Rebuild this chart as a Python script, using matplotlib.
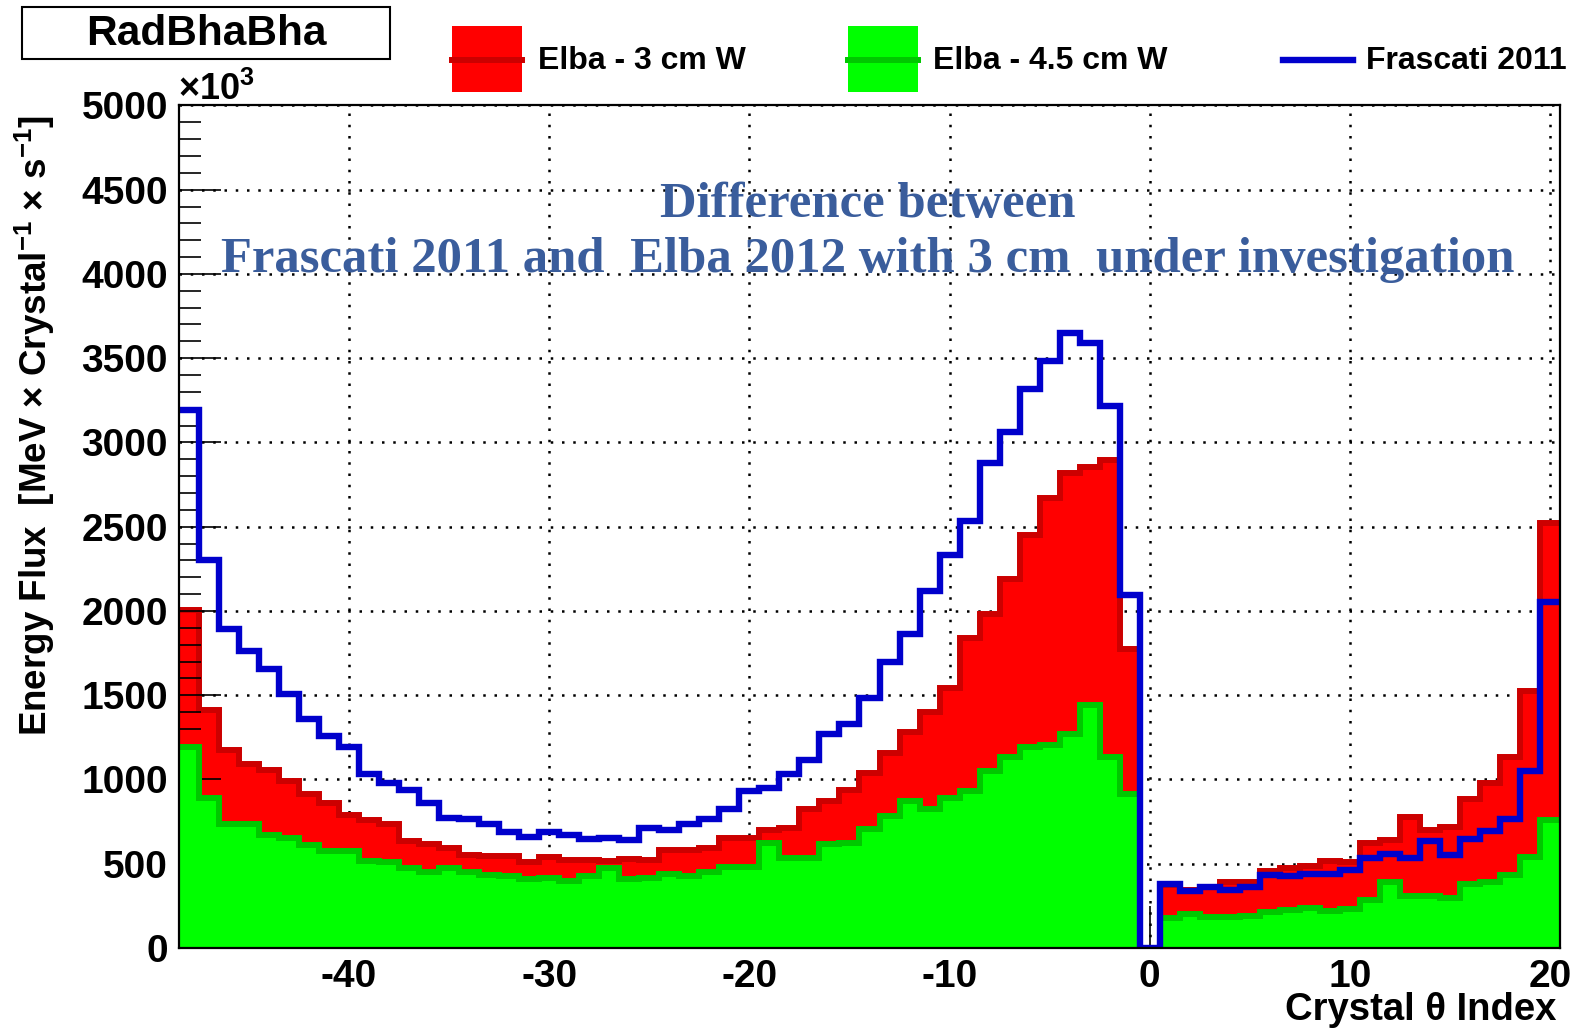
import numpy as np
import matplotlib.pyplot as plt
from matplotlib.patches import Rectangle
from matplotlib.lines import Line2D

# values in units of 10^3 MeV / crystal / s, bins centred on -48 ... 20
crystal_index = list(range(-48, 21))

elba_3cm = [2004, 1411, 1176, 1092, 1055, 989, 916, 861, 789, 762,
            734, 635, 615, 595, 551, 543, 547, 509, 538, 523,
            523, 519, 528, 525, 580, 584, 596, 651, 655, 701,
            713, 827, 873, 940, 1040, 1157, 1282, 1400, 1545, 1840,
            1980, 2187, 2450, 2672, 2817, 2852, 2897, 1773,
            0,
            375, 345, 360, 389, 391, 455, 474, 488, 514, 508,
            623, 643, 775, 698, 718, 884, 979, 1132, 1528, 2524]

elba_45cm = [1191, 888, 734, 736, 670, 653, 613, 574, 576, 514,
             512, 477, 450, 472, 450, 433, 430, 410, 416, 396,
             430, 475, 410, 414, 437, 426, 449, 481, 481, 623,
             534, 534, 617, 624, 706, 782, 875, 825, 888, 933,
             1050, 1133, 1193, 1203, 1270, 1440, 1133, 915,
             0,
             177, 201, 183, 183, 187, 211, 223, 237, 221, 231,
             282, 389, 306, 310, 296, 381, 394, 435, 540, 758]

frascati_2011 = [3190, 2300, 1890, 1760, 1655, 1505, 1360, 1260, 1190, 1035,
                 980, 935, 860, 770, 765, 735, 690, 657, 689, 671,
                 649, 655, 641, 711, 699, 738, 766, 825, 932, 950,
                 1033, 1114, 1267, 1330, 1485, 1700, 1865, 2118, 2335, 2533,
                 2880, 3063, 3318, 3485, 3650, 3588, 3215, 2095,
                 0,
                 379, 340, 360, 344, 360, 433, 427, 437, 439, 463,
                 532, 556, 532, 637, 552, 647, 696, 765, 1053, 2054]

legend_labels = ['Elba - 3 cm W', 'Elba - 4.5 cm W', 'Frascati 2011']
x_ticks = [-40, -30, -20, -10, 0, 10, 20]
y_ticks = list(range(0, 5001, 500))

plt.rcParams['font.family'] = ['Liberation Sans', 'DejaVu Sans']
plt.rcParams['font.weight'] = 'bold'
plt.rcParams['axes.unicode_minus'] = False
plt.rcParams['mathtext.fontset'] = 'custom'
plt.rcParams['mathtext.rm'] = 'Liberation Sans:bold'
plt.rcParams['mathtext.bf'] = 'Liberation Sans:bold'
plt.rcParams['mathtext.it'] = 'Liberation Sans:bold'

W, H = 1574, 1032


def fx(px):
    return px / W


def fy(py):
    return 1 - py / H


fig = plt.figure(figsize=(W / 100, H / 100), dpi=100)
ax = fig.add_axes([fx(179), fy(948), 1381 / W, (948 - 105.4) / H])

edges = np.arange(crystal_index[0] - 0.5, crystal_index[-1] + 1.0, 1.0)

red, dark_red = '#ff0000', '#cc0000'
green, dark_green = '#00ff00', '#00c800'
blue = '#0000cc'

ax.stairs(elba_3cm, edges, fill=True, color=red, zorder=2)
ax.stairs(elba_3cm, edges, baseline=None, color=dark_red, lw=4.3, zorder=2.1)
ax.stairs(elba_45cm, edges, fill=True, color=green, zorder=3)
ax.stairs(elba_45cm, edges, baseline=None, color=dark_green, lw=4.3, zorder=3.1)
ax.stairs(frascati_2011, edges, baseline=None, color=blue, lw=4.6, zorder=4)

# dotted grid below the histograms
for xv in x_ticks:
    ax.axvline(xv, color='black', lw=1.8, ls=(0, (1, 3.5)), zorder=1)
for yv in y_ticks:
    ax.axhline(yv, color='black', lw=1.8, ls=(0, (1, 3.5)), zorder=1)

ax.set_xlim(edges[0], edges[-1])
ax.set_ylim(0, 5000)
ax.set_xticks(x_ticks)
ax.set_yticks(y_ticks)
ax.set_yticks(range(0, 5001, 100), minor=True)
ax.set_axisbelow(False)
ax.tick_params(axis='y', which='major', direction='in', length=30, width=1.2,
               labelsize=28, pad=8)
ax.tick_params(axis='y', which='minor', direction='in', length=16, width=1.2)
ax.tick_params(axis='x', which='major', direction='in', length=30, width=1.2,
               labelsize=28, pad=8)
for sp in ax.spines.values():
    sp.set_linewidth(1.6)
    sp.set_zorder(10)

fig.text(fx(35), fy(115), r'Energy Flux  [MeV $\times$ Crystal$^{-1}$ $\times$ s$^{-1}$]',
         rotation=90, ha='center', va='top', fontsize=26.5)
fig.text(fx(1556), fy(1010), 'Crystal θ Index', ha='right', va='center', fontsize=27.5)
fig.text(fx(178), fy(90), r'$\times$10$^{3}$', ha='left', va='center', fontsize=26)

# title box
fig.add_artist(Rectangle((fx(22), fy(59)), (390 - 22) / W, (59 - 7) / H,
                         transform=fig.transFigure, fill=False, ec='black', lw=1.5))
fig.text(fx(206), fy(34), 'RadBhaBha', ha='center', va='center', fontsize=30.5)

# legend
for x0, fc, lc in [(452, red, dark_red), (848, green, dark_green)]:
    fig.add_artist(Rectangle((fx(x0), fy(92)), 70 / W, 66 / H,
                             transform=fig.transFigure, fc=fc, ec='none'))
    fig.add_artist(Line2D([fx(x0), fx(x0 + 70)], [fy(60), fy(60)],
                          transform=fig.transFigure, color=lc, lw=4.3))
fig.add_artist(Line2D([fx(1283), fx(1353)], [fy(60), fy(60)],
                      transform=fig.transFigure, color=blue, lw=4.6))
for xt, lab in zip([538, 933, 1366], legend_labels):
    fig.text(fx(xt), fy(61), lab, ha='left', va='center', fontsize=23)

note_color = '#3a5d9c'
fig.text(fx(868), fy(205), 'Difference between', family='Liberation Serif',
         weight='bold', color=note_color, fontsize=36.5, ha='center', va='center')
fig.text(fx(868), fy(260), 'Frascati 2011 and  Elba 2012 with 3 cm  under investigation',
         family='Liberation Serif', weight='bold', color=note_color, fontsize=36.5,
         ha='center', va='center')

fig.savefig('out.png', dpi=100)
